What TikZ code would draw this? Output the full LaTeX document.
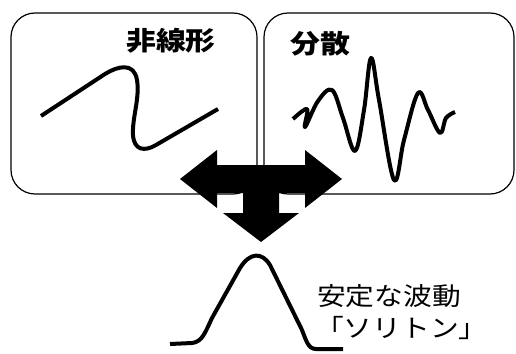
\documentclass[tikz,border=0pt]{standalone}
\usepackage{fontspec}
\newfontfamily\jp{Noto Sans CJK JP}[FakeStretch=1.15]
\begin{document}
\begin{tikzpicture}[x=1pt,y=-1pt,
  panel/.style={draw=black,line width=1.2pt,rounded corners=24pt,inner sep=0pt},
  wave/.style={line width=4pt,line join=round},
  label/.style={inner sep=0pt,font=\jp\fontsize{26}{30}\selectfont\bfseries},
  note/.style={inner sep=0pt,anchor=west,font=\jp\fontsize{25}{30}\selectfont}]
\useasboundingbox (0,0) rectangle (516,353);
\fill[white] (0,0) rectangle (516,353);
\node[panel,minimum width=246pt,minimum height=181pt] (nl) at (134,103.5) {};
\node[panel,minimum width=250pt,minimum height=181pt] (ds) at (389,103.5) {};
\node[label] (nltext) at (171,40.5) {非線形};
\node[label] (dstext) at (320.5,44) {分散};
\node[note] (stable) at (317,296) {安定な波動};
\node[note] (soliton) at (315,328) {「ソリトン」};
% nonlinear wave
\draw[wave] (41,116) -- (105,74) .. controls (118,66) and (134,62) .. (137,80)
  .. controls (140,98) and (132,118) .. (133,135)
  .. controls (134,150) and (144,152) .. (156,145) -- (218,109);
% dispersive wave
\draw[wave] plot[smooth,tension=0.6] coordinates {(293,119) (307,109) (305,127) (318,101) (332,90) (343,118) (355,151) (364,110) (371,58) (379,100) (394,180) (404,140) (418,93) (428,110) (440,133) (446,118) (455,112)};
% soliton
\draw[wave] (170,344) -- (192,343) .. controls (202,342) and (205,333) .. (212,318)
  -- (240,268) .. controls (250,252) and (262,252) .. (270,265)
  -- (302,330) .. controls (306,340) and (308,349) .. (316,349) -- (343,349);
% combined arrow
\fill[black] (180,179) -- (217,150) -- (217,165) -- (305,165) -- (305,150) -- (342,179)
  -- (305,208) -- (305,193) -- (279,193) -- (279,213) -- (299,213) -- (261,242)
  -- (223,213) -- (243,213) -- (243,193) -- (217,193) -- (217,208) -- cycle;
\end{tikzpicture}
\end{document}
